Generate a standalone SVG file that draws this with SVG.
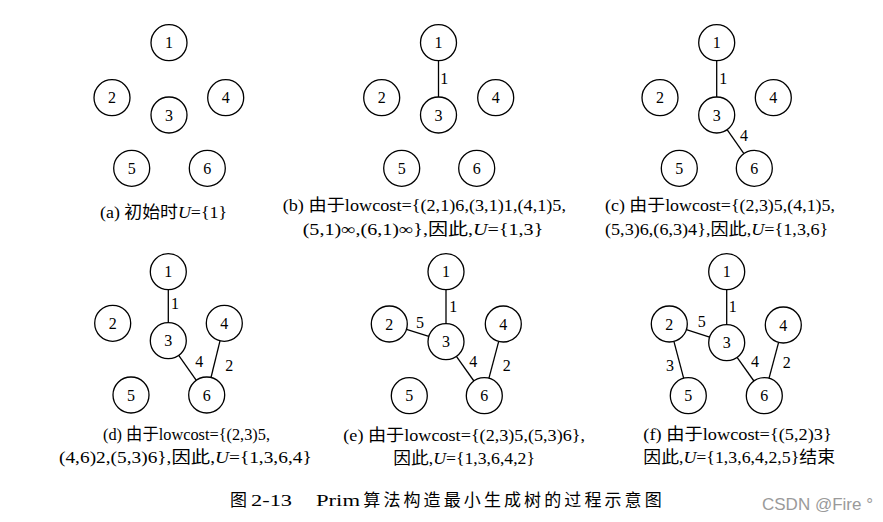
<svg xmlns="http://www.w3.org/2000/svg" width="883" height="522" viewBox="0 0 883 522">
<style>
.n circle{fill:#fff;stroke:#000;stroke-width:1.3}
.n text,.lbl{font-family:"Liberation Serif","Noto Sans CJK SC",serif;font-size:16px;fill:#000;text-anchor:middle}
.e line{stroke:#000;stroke-width:1.3}
.cap{font-family:"Liberation Serif","Noto Sans CJK SC",serif;font-size:16.5px;fill:#000}
.it{font-style:italic}
.title{font-family:"Liberation Serif","Noto Sans CJK SC",serif;font-size:17px;fill:#000}
.wm{font-family:"Liberation Sans",Arial,sans-serif;font-size:17px;fill:#9a9a9a}
</style>
<rect width="883" height="522" fill="#fff"/>

<!-- connectors -->
<g id="connectors" class="e">
  <line x1="438.5" y1="60.7" x2="438.5" y2="97"/>
  <line x1="716.7" y1="60.7" x2="716.7" y2="97"/>
  <line x1="727.1" y1="129.7" x2="743.9" y2="153.6"/>
  <line x1="168.3" y1="289.7" x2="168.3" y2="322.7"/>
  <line x1="178.7" y1="355.4" x2="196.3" y2="380.3"/>
  <line x1="220" y1="340.8" x2="211" y2="377.5"/>
  <line x1="446" y1="289.7" x2="446" y2="323.7"/>
  <line x1="406.5" y1="329.4" x2="428.8" y2="336.3"/>
  <line x1="456.4" y1="356.4" x2="473.9" y2="381"/>
  <line x1="498.7" y1="341.4" x2="488.9" y2="378.3"/>
  <line x1="726.7" y1="289.7" x2="726.7" y2="324.7"/>
  <line x1="686.4" y1="329.6" x2="709.6" y2="337.1"/>
  <line x1="673.9" y1="341.4" x2="683.7" y2="378.3"/>
  <line x1="737.1" y1="357.4" x2="753.9" y2="381"/>
  <line x1="778.6" y1="342.4" x2="769" y2="378.3"/>
</g>

<!-- edge labels -->
<g id="edge-labels">
  <text class="lbl" x="444.3" y="83.5">1</text>
  <text class="lbl" x="723.3" y="83.8">1</text>
  <text class="lbl" x="744" y="140.5">4</text>
  <text class="lbl" x="175" y="308.8">1</text>
  <text class="lbl" x="199.3" y="367.2">4</text>
  <text class="lbl" x="229.3" y="370.5">2</text>
  <text class="lbl" x="453.3" y="311.5">1</text>
  <text class="lbl" x="420" y="328.2">5</text>
  <text class="lbl" x="473.3" y="367.2">4</text>
  <text class="lbl" x="506.7" y="370.5">2</text>
  <text class="lbl" x="732.7" y="311.5">1</text>
  <text class="lbl" x="701.7" y="327.2">5</text>
  <text class="lbl" x="670" y="370.5">3</text>
  <text class="lbl" x="755" y="367.2">4</text>
  <text class="lbl" x="786.7" y="368.2">2</text>
</g>

<!-- panel a -->
<g id="a1" class="n"><circle cx="169" cy="42.7" r="18"/><text x="169" y="48.2">1</text></g>
<g id="a2" class="n"><circle cx="112" cy="97.7" r="18"/><text x="112" y="103.2">2</text></g>
<g id="a3" class="n"><circle cx="169" cy="115" r="18"/><text x="169" y="120.5">3</text></g>
<g id="a4" class="n"><circle cx="225.7" cy="97.7" r="18"/><text x="225.7" y="103.2">4</text></g>
<g id="a5" class="n"><circle cx="131.7" cy="168.3" r="18"/><text x="131.7" y="173.8">5</text></g>
<g id="a6" class="n"><circle cx="207.3" cy="168.3" r="18"/><text x="207.3" y="173.8">6</text></g>

<!-- panel b -->
<g id="b1" class="n"><circle cx="438.5" cy="42.7" r="18"/><text x="438.5" y="48.2">1</text></g>
<g id="b2" class="n"><circle cx="381.7" cy="97.7" r="18"/><text x="381.7" y="103.2">2</text></g>
<g id="b3" class="n"><circle cx="438.5" cy="115" r="18"/><text x="438.5" y="120.5">3</text></g>
<g id="b4" class="n"><circle cx="495.7" cy="97.7" r="18"/><text x="495.7" y="103.2">4</text></g>
<g id="b5" class="n"><circle cx="401.7" cy="168.3" r="18"/><text x="401.7" y="173.8">5</text></g>
<g id="b6" class="n"><circle cx="476.7" cy="168.3" r="18"/><text x="476.7" y="173.8">6</text></g>

<!-- panel c -->
<g id="c1" class="n"><circle cx="716.7" cy="42.7" r="18"/><text x="716.7" y="48.2">1</text></g>
<g id="c2" class="n"><circle cx="660" cy="97.7" r="18"/><text x="660" y="103.2">2</text></g>
<g id="c3" class="n"><circle cx="716.7" cy="115" r="18"/><text x="716.7" y="120.5">3</text></g>
<g id="c4" class="n"><circle cx="773.3" cy="97.7" r="18"/><text x="773.3" y="103.2">4</text></g>
<g id="c5" class="n"><circle cx="679.3" cy="168.3" r="18"/><text x="679.3" y="173.8">5</text></g>
<g id="c6" class="n"><circle cx="754.3" cy="168.3" r="18"/><text x="754.3" y="173.8">6</text></g>

<!-- panel d -->
<g id="d1" class="n"><circle cx="168.3" cy="271.7" r="18"/><text x="168.3" y="277.2">1</text></g>
<g id="d2" class="n"><circle cx="112.7" cy="323.3" r="18"/><text x="112.7" y="328.8">2</text></g>
<g id="d3" class="n"><circle cx="168.3" cy="340.7" r="18"/><text x="168.3" y="346.2">3</text></g>
<g id="d4" class="n"><circle cx="224.3" cy="323.3" r="18"/><text x="224.3" y="328.8">4</text></g>
<g id="d5" class="n"><circle cx="131" cy="395" r="18"/><text x="131" y="400.5">5</text></g>
<g id="d6" class="n"><circle cx="206.7" cy="395" r="18"/><text x="206.7" y="400.5">6</text></g>

<!-- panel e -->
<g id="e1" class="n"><circle cx="446" cy="271.7" r="18"/><text x="446" y="277.2">1</text></g>
<g id="e2" class="n"><circle cx="389.3" cy="324" r="18"/><text x="389.3" y="329.5">2</text></g>
<g id="e3" class="n"><circle cx="446" cy="341.7" r="18"/><text x="446" y="347.2">3</text></g>
<g id="e4" class="n"><circle cx="503.3" cy="324" r="18"/><text x="503.3" y="329.5">4</text></g>
<g id="e5" class="n"><circle cx="409.3" cy="395.7" r="18"/><text x="409.3" y="401.2">5</text></g>
<g id="e6" class="n"><circle cx="484.3" cy="395.7" r="18"/><text x="484.3" y="401.2">6</text></g>

<!-- panel f -->
<g id="f1" class="n"><circle cx="726.7" cy="271.7" r="18"/><text x="726.7" y="277.2">1</text></g>
<g id="f2" class="n"><circle cx="669.3" cy="324" r="18"/><text x="669.3" y="329.5">2</text></g>
<g id="f3" class="n"><circle cx="726.7" cy="342.7" r="18"/><text x="726.7" y="348.2">3</text></g>
<g id="f4" class="n"><circle cx="783.3" cy="325" r="18"/><text x="783.3" y="330.5">4</text></g>
<g id="f5" class="n"><circle cx="688.3" cy="395.7" r="18"/><text x="688.3" y="401.2">5</text></g>
<g id="f6" class="n"><circle cx="764.3" cy="395.7" r="18"/><text x="764.3" y="401.2">6</text></g>

<!-- captions -->
<g id="captions">
  <text class="cap" x="100" y="217.5" textLength="127" lengthAdjust="spacingAndGlyphs">(a) 初始时<tspan class="it">U</tspan>={1}</text>
  <text class="cap" x="282.7" y="211" textLength="283.3" lengthAdjust="spacingAndGlyphs">(b) 由于lowcost={(2,1)6,(3,1)1,(4,1)5,</text>
  <text class="cap" x="302.7" y="234.5" textLength="240.6" lengthAdjust="spacingAndGlyphs">(5,1)∞,(6,1)∞},因此,<tspan class="it">U</tspan>={1,3}</text>
  <text class="cap" x="605" y="211" textLength="230" lengthAdjust="spacingAndGlyphs">(c) 由于lowcost={(2,3)5,(4,1)5,</text>
  <text class="cap" x="605" y="234.5" textLength="223.3" lengthAdjust="spacingAndGlyphs">(5,3)6,(6,3)4},因此,<tspan class="it">U</tspan>={1,3,6}</text>
  <text class="cap" x="103" y="439.5" textLength="167" lengthAdjust="spacingAndGlyphs">(d) 由于lowcost={(2,3)5,</text>
  <text class="cap" x="59" y="462.5" textLength="252.7" lengthAdjust="spacingAndGlyphs">(4,6)2,(5,3)6},因此,<tspan class="it">U</tspan>={1,3,6,4}</text>
  <text class="cap" x="343.3" y="440.5" textLength="241.7" lengthAdjust="spacingAndGlyphs">(e) 由于lowcost={(2,3)5,(5,3)6},</text>
  <text class="cap" x="393.3" y="464" textLength="141.7" lengthAdjust="spacingAndGlyphs">因此,<tspan class="it">U</tspan>={1,3,6,4,2}</text>
  <text class="cap" x="643.3" y="439.5" textLength="188.4" lengthAdjust="spacingAndGlyphs">(f) 由于lowcost={(5,2)3}</text>
  <text class="cap" x="643.3" y="462.5" textLength="191.7" lengthAdjust="spacingAndGlyphs">因此,<tspan class="it">U</tspan>={1,3,6,4,2,5}结束</text>
</g>

<!-- title -->
<g id="title">
  <text class="title" x="230" y="506">图</text>
  <text class="title" x="251" y="506" textLength="41" lengthAdjust="spacingAndGlyphs">2-13</text>
  <text class="title" x="316" y="506" textLength="44" lengthAdjust="spacingAndGlyphs">Prim</text>
  <text class="title" x="363.3" y="506" textLength="298.4" lengthAdjust="spacing">算法构造最小生成树的过程示意图</text>
</g>
<text class="wm" x="762" y="510">CSDN @Fire °</text>
</svg>
